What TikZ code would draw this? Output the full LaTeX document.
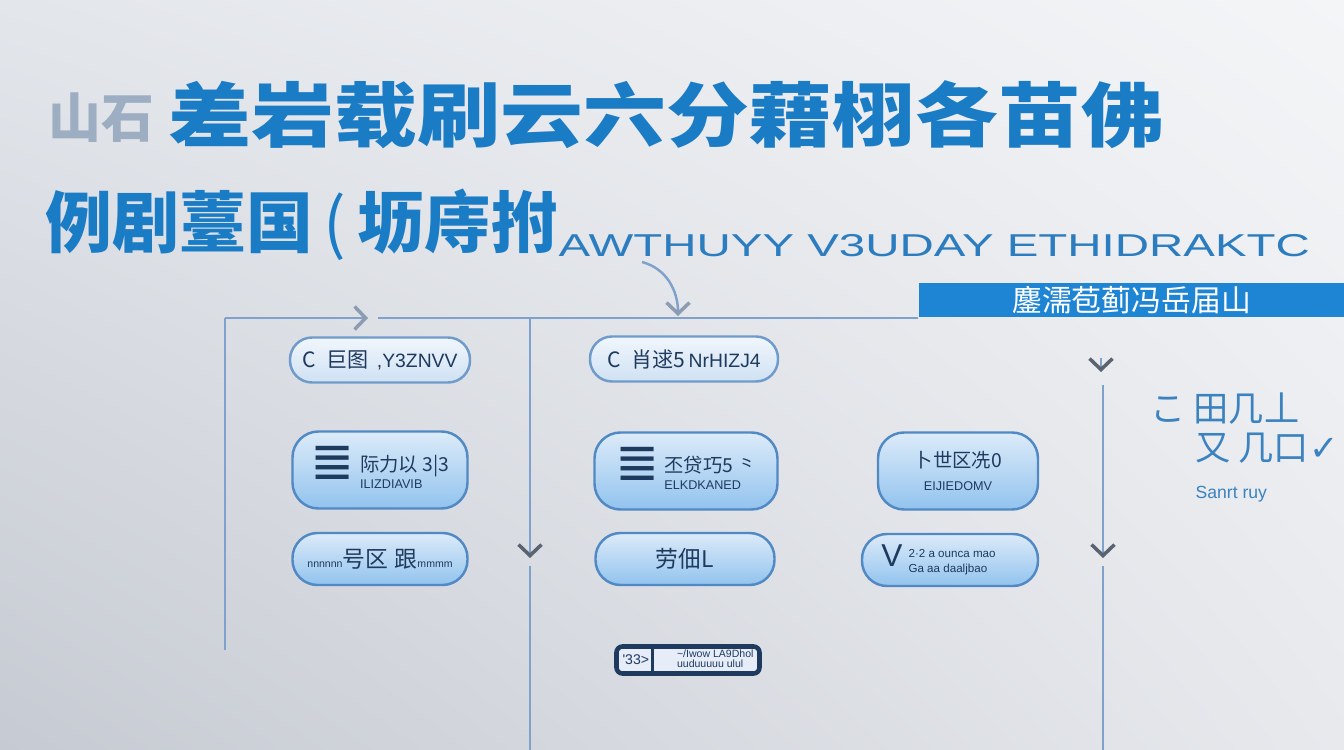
\documentclass[tikz,border=0pt]{standalone}
\usepackage{fontspec}
\usepackage{graphicx}
\usetikzlibrary{arrows.meta,shadings}
\newfontfamily\cjk{Noto Sans CJK SC}
\newfontfamily\latn{Liberation Sans}
\newfontfamily\symf{DejaVu Sans}
\definecolor{bgA}{HTML}{E3E6EB}
\definecolor{bgB}{HTML}{F4F5F7}
\definecolor{bgC}{HTML}{C6CAD2}
\definecolor{bgD}{HTML}{E7E9ED}
\definecolor{ttlblue}{HTML}{1B7CC6}
\definecolor{ttlgray}{HTML}{9DAEC2}
\definecolor{engblue}{HTML}{2C7DBF}
\definecolor{bandblue}{HTML}{1E84D4}
\definecolor{lineblue}{HTML}{7EA2CB}
\definecolor{tipgray}{HTML}{5B6370}
\definecolor{tiplight}{HTML}{8C9DB2}
\definecolor{pilledge}{HTML}{6F9BCB}
\definecolor{pilltop}{HTML}{F1F6FC}
\definecolor{pillbot}{HTML}{CFE1F3}
\definecolor{boxedge}{HTML}{5189C4}
\definecolor{boxtop}{HTML}{DCEBF9}
\definecolor{boxbot}{HTML}{92C3EE}
\definecolor{navy}{HTML}{1E3A5F}
\definecolor{notefill}{HTML}{E6EDF8}
\definecolor{sideblue}{HTML}{3A82C0}

\begin{document}
\begin{tikzpicture}[x=0.1mm,y=0.1mm]
        \tikzstyle{every node}+=[inner sep=0pt]
        \tikzstyle{conn}=[draw=lineblue, line width=0.7pt]
        \tikzstyle{chev}=[-{Straight Barb[length=1.1mm,width=2.3mm,line width=1pt,color=tipgray]}]
        \tikzstyle{chevlight}=[-{Straight Barb[length=1.1mm,width=2.3mm,line width=1pt,color=tiplight]}]
        \tikzstyle{lightpill}=[rounded corners=2.2mm, draw=pilledge, line width=0.7pt, top color=pilltop, bottom color=pillbot, minimum height=4.5mm, text=navy, font=\cjk\fontsize{6pt}{6pt}\selectfont]
        \tikzstyle{bluebox}=[rounded corners=2.6mm, draw=boxedge, line width=0.7pt, top color=boxtop, bottom color=boxbot, minimum height=7.7mm, text=navy, font=\cjk\fontsize{5.5pt}{5.5pt}\selectfont]
        \tikzstyle{bluepill}=[rounded corners=2.5mm, draw=boxedge, line width=0.7pt, top color=boxtop, bottom color=boxbot, minimum height=5.2mm, text=navy, font=\cjk\fontsize{6.5pt}{6.5pt}\selectfont]
        \useasboundingbox (0,0) rectangle (1344,-750);
        \shade[upper left=bgA, upper right=bgB, lower left=bgC, lower right=bgD] (0,0) rectangle (1344,-750);
        \node [anchor=west, text=ttlgray, font=\cjk\bfseries\fontsize{15pt}{15pt}\selectfont] (logo) at (48,-118) {山石};
        \node [anchor=west, text=ttlblue, font=\cjk\bfseries\fontsize{20pt}{20pt}\selectfont] (title) at (168,-115) {\scalebox{1.18}[1]{差岩载刷云六分藉栩各苗佛}};
        \node [anchor=west, text=ttlblue, font=\cjk\bfseries\fontsize{19pt}{19pt}\selectfont] (subtitle) at (45,-225) {例剧薹国\,{\mdseries(}\,坜庤拊};
        \node [anchor=west, text=engblue, font=\latn\fontsize{9pt}{9pt}\selectfont] (eng) at (558,-246) {\scalebox{1.5}[1]{AWTHUYY V3UDAY ETHIDRAKTC}};
        \node [anchor=south west, fill=bandblue, minimum width=42.6mm, minimum height=3.4mm, text=white, font=\cjk\fontsize{8.5pt}{8.5pt}\selectfont] (band) at (918,-318) {鏖濡苞蓟冯岳届山};
        \coordinate (lt) at (225,-318);
        \coordinate (lb) at (225,-650);
        \coordinate (ah) at (368,-318);
        \coordinate (ag) at (378,-318);
        \draw [conn] (lb) -- (lt);
        \draw [conn,chevlight] (lt) -- (ah);
        \draw [conn] (ag) -- (band.south west);
        \coordinate (c0) at (642,-262);
        \coordinate (c1) at (678,-316);
        \draw [conn,chevlight] (c0) to[out=-15,in=90] (c1);
        \coordinate (mt) at (530,-318);
        \coordinate (ma) at (530,-558);
        \coordinate (mg) at (530,-566);
        \coordinate (mb) at (530,-750);
        \draw [conn,chev] (mt) -- (ma);
        \draw [conn] (mg) -- (mb);
        \coordinate (r0) at (1101,-358);
        \coordinate (r1) at (1101,-372);
        \coordinate (r2) at (1103,-385);
        \coordinate (r3) at (1103,-558);
        \coordinate (r4) at (1103,-566);
        \coordinate (r5) at (1103,-750);
        \draw [conn,chev] (r0) -- (r1);
        \draw [conn,chev] (r2) -- (r3);
        \draw [conn] (r4) -- (r5);
        \node [lightpill, minimum width=18mm] (pillL) at (380,-360) {C\; 巨图\, {\latn\fontsize{5.5pt}{5.5pt}\selectfont ,Y3ZNVV}};
        \node [lightpill, minimum width=18.8mm] (pillM) at (684,-359) {C\; 肖逑5\,{\latn\fontsize{5.5pt}{5.5pt}\selectfont NrHIZJ4}};
        \node [bluebox, minimum width=17.5mm] (boxL) at (380,-470) {{\symf\fontsize{15pt}{15pt}\selectfont ≣}\hspace{0.5mm}\begin{tabular}[c]{@{}l@{}}际力以 3|3\\[-0.3mm]{\latn\fontsize{3.6pt}{3.6pt}\selectfont ILIZDIAVIB}\end{tabular}};
        \node [bluebox, minimum width=18.3mm] (boxM) at (686,-471) {{\symf\fontsize{15pt}{15pt}\selectfont ≣}\hspace{0.5mm}\begin{tabular}[c]{@{}l@{}}丕贷巧5 ⺀\\[-0.3mm]{\latn\fontsize{3.6pt}{3.6pt}\selectfont ELKDKANED}\end{tabular}};
        \node [bluebox, minimum width=16mm, align=center] (boxR) at (958,-471) {卜世区冼0\\[0.3mm]{\latn\fontsize{3.6pt}{3.6pt}\selectfont EIJIEDOMV}};
        \node [bluepill, minimum width=17.5mm] (endL) at (380,-559) {{\latn\fontsize{3pt}{3pt}\selectfont nnnnnn}号区\;跟{\latn\fontsize{3pt}{3pt}\selectfont mmmm}};
        \node [bluepill, minimum width=17.9mm] (endM) at (685,-559) {劳佃L};
        \node [bluepill, minimum width=17.6mm, font=\latn\fontsize{3.3pt}{4.4pt}\selectfont] (endR) at (950,-560) {{\fontsize{9pt}{9pt}\selectfont V}\hspace{0.6mm}\parbox[c]{11mm}{2·2 a ounca mao\\Ga aa daaljbao}};
        \node [draw=navy, line width=1.3pt, fill=notefill, rounded corners=0.6mm, inner xsep=0.6mm, minimum width=12.2mm, minimum height=2.7mm, text=navy, font=\latn\fontsize{3pt}{3.4pt}\selectfont] (note) at (688,-660) {{\fontsize{4pt}{4pt}\selectfont '33>}\hspace{2.8mm}\begin{tabular}[c]{@{}l@{}}\textasciitilde/Iwow LA9Dhol\\[-0.2mm]uuduuuuu ulul\end{tabular}};
        \draw [navy, line width=0.9pt] ([xshift=3.8mm]note.north west) -- ([xshift=3.8mm]note.south west);
        \node [anchor=north west, align=left, text=sideblue, font=\cjk\fontsize{10pt}{11pt}\selectfont] (side) at (1150,-392) {こ 田几丄\\ \hspace*{4.5mm}又 几口{\symf ✓}\\ \hspace*{4.5mm}{\latn\fontsize{5pt}{6pt}\selectfont Sanrt ruy}};
    \end{tikzpicture}
\end{document}
